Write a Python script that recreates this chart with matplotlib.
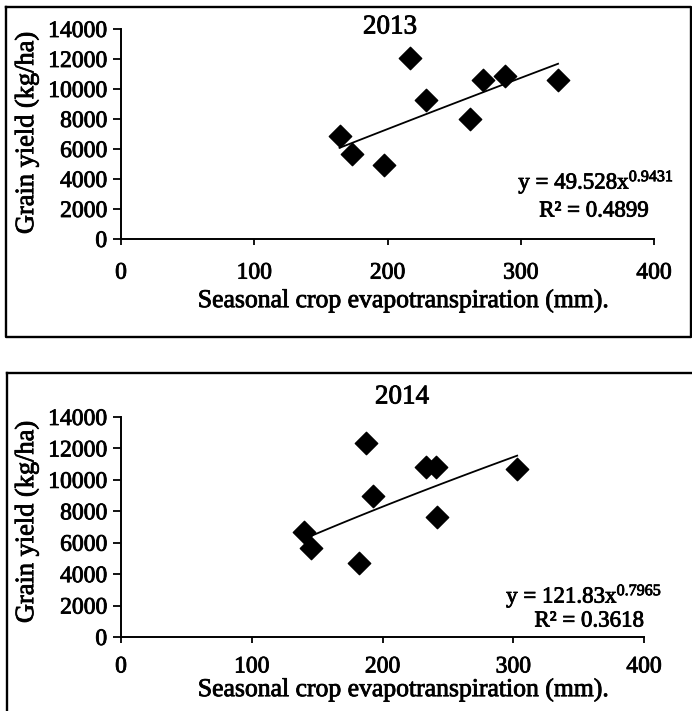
"""Grain yield vs seasonal crop evapotranspiration, 2013 and 2014."""

import matplotlib
matplotlib.use("Agg")
import matplotlib.pyplot as plt
import matplotlib.patheffects as pe
import numpy as np
from matplotlib.lines import Line2D

plt.rcParams["font.family"] = ["Liberation Serif", "DejaVu Serif"]
plt.rcParams["mathtext.fontset"] = "custom"
plt.rcParams["mathtext.rm"] = "Liberation Serif"
plt.rcParams["mathtext.it"] = "Liberation Serif:italic"

# 2013 season
et_2013 = [164, 173, 197, 217, 229, 262, 272, 288, 328]
yield_2013 = [6860, 5640, 4930, 12050, 9250, 8030, 10620, 10860, 10570]
coef_2013, expo_2013, r2_2013 = 49.528, 0.9431, 0.4899

# 2014 season
et_2014 = [140, 145, 182, 187, 193, 233, 241, 242, 303]
yield_2014 = [6660, 5660, 4680, 12340, 8980, 10810, 10850, 7620, 10700]
coef_2014, expo_2014, r2_2014 = 121.83, 0.7965, 0.3618

x_ticks = [0, 100, 200, 300, 400]
y_ticks = [0, 2000, 4000, 6000, 8000, 10000, 12000, 14000]

W, H = 692, 711
fig = plt.figure(figsize=(W / 100, H / 100), dpi=100)

# scanned text looks heavy, thicken the glyphs a little
heavy = [pe.withStroke(linewidth=0.6, foreground="black")]


def fx(px):
    return px / W


def fy(py):
    return 1 - py / H


def panel(rect, et, yld, coef, expo, r2, year, title_xy, eq_xy, r2_xy,
          ylab_xy, xlab_xy, xtick_pad):
    left, top, right, bottom = rect
    ax = fig.add_axes([fx(left), fy(bottom), fx(right - left),
                       fy(top) - fy(bottom)])
    ax.scatter(et, yld, marker="D", s=130, color="black", zorder=3)
    xs = np.linspace(min(et), max(et), 50)
    ax.plot(xs, coef * xs ** expo, color="black", lw=1.3)
    ax.set_xlim(0, 400)
    ax.set_ylim(0, 14000)
    ax.set_xticks(x_ticks)
    ax.set_yticks(y_ticks)
    for s in ("top", "right"):
        ax.spines[s].set_visible(False)
    for s in ("left", "bottom"):
        ax.spines[s].set_linewidth(1.4)
    ax.tick_params(axis="y", direction="out", length=6, width=1.3,
                   pad=4, labelsize=17)
    ax.tick_params(axis="x", direction="out", length=4, width=1.3,
                   pad=xtick_pad, labelsize=17)
    for lab in ax.get_xticklabels() + ax.get_yticklabels():
        lab.set_path_effects(heavy)
    ax.patch.set_alpha(0)

    if coef < 100:
        eq = "y = %.3fx$^{%.4f}$" % (coef, expo)
    else:
        eq = "y = %.2fx$^{%.4f}$" % (coef, expo)
    texts = [
        fig.text(fx(title_xy[0]), fy(title_xy[1]), year, fontsize=19.5,
                 ha="center", va="center"),
        fig.text(fx(eq_xy[0]), fy(eq_xy[1]), eq,
                 fontsize=16.5, ha="center", va="center"),
        fig.text(fx(r2_xy[0]), fy(r2_xy[1]), "R\u00b2 = %.4f" % r2,
                 fontsize=16.5, ha="center", va="center"),
        fig.text(fx(ylab_xy[0]), fy(ylab_xy[1]), "Grain yield (kg/ha)",
                 fontsize=19, rotation=90, ha="center", va="center"),
        fig.text(fx(xlab_xy[0]), fy(xlab_xy[1]),
                 "Seasonal crop evapotranspiration (mm).", fontsize=18.5,
                 ha="center", va="center"),
    ]
    for t in texts:
        t.set_path_effects(heavy)
    return ax


panel((121, 29, 654, 239), et_2013, yield_2013, coef_2013, expo_2013,
      r2_2013, "2013", (390, 27), (596, 182), (594, 211), (27, 133),
      (404, 301), 13)
panel((121, 417, 644, 637), et_2014, yield_2014, coef_2014, expo_2014,
      r2_2014, "2014", (402, 397), (584, 596), (589, 621), (27, 522),
      (404, 690), 10)

# frames around the two charts
frame = dict(color="black", lw=1.7, transform=fig.transFigure)
for xs, ys in [
    ((6, 691, 691, 6, 6), (7, 7, 337, 337, 7)),
    ((7, 691), (373, 373)),
    ((7, 7), (373, 711)),
]:
    fig.add_artist(Line2D([fx(v) for v in xs], [fy(v) for v in ys], **frame))

fig.savefig("out.png", dpi=100)
